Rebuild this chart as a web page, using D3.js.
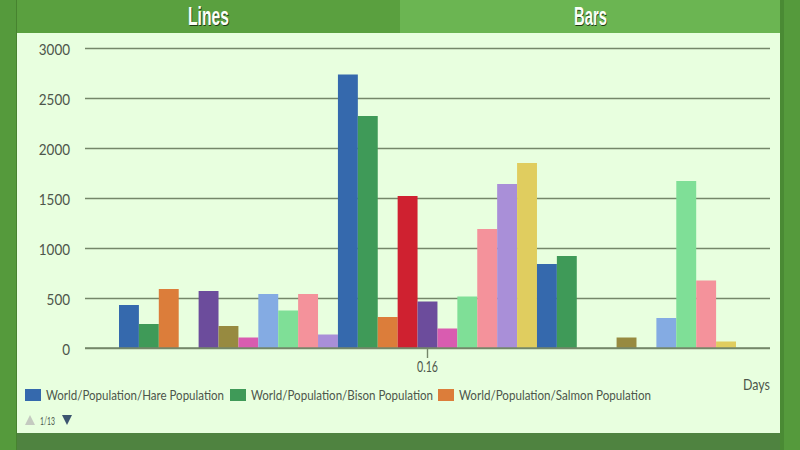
<!DOCTYPE html>
<html lang="en">
<head>
	<meta charset="utf-8" />
	<title>World Population - Bars</title>
	<script src="https://d3js.org/d3.v7.min.js"></script>
    <style>
        html, body {
            margin: 0;
            padding: 0;
            background: #559a3c;
            overflow: hidden;
        }
        svg {
            display: block;
        }
        text {
            font-family: Lato, "Open Sans", sans-serif;
            fill: #4d564b;
        }
        .tab {
            font-family: "Liberation Sans", sans-serif;
            font-size: 25px;
            font-weight: bold;
            fill: #fbfff8;
            text-shadow: 1px 1px 0 #1d3a12;
        }
        .axis path { display: none; }
        .grid line { stroke: #75876a; stroke-width: 1.4; }
        .grid text { font-size: 16px; }
        .base line { stroke: #75876a; stroke-width: 1.4; }
    </style>
</head>
<body>
	<script>
    // one x category, 3 visible rounds of the 12 colour cycle
    // null = series has no bar here (no slot), 0 = slot stays empty
    const categories = ["0.16"];
    const tabLabels = ["Lines", "Bars"];
    const yTicks = [0, 500, 1000, 1500, 2000, 2500, 3000];
    const legendNames = [
        "World/Population/Hare Population",
        "World/Population/Bison Population",
        "World/Population/Salmon Population"
    ];
    const seriesValues = [
        430, 240, 590, 0, 570, 220, 105, 540, 375, 540, 135, null,
        2735, 2320, 310, 1520, 465, null, 195, null, 515, 1190, 1640, 1850,
        840, 920, 0, 0, null, 105, 0, 300, 1670, 675, null, 65
    ];
    const palette = [
        "#3569ad", "#3f9a58", "#dc7d3a", "#cf2130", "#6c4c9c", "#978a40",
        "#d95cb0", "#84abe3", "#7fdf97", "#f4929b", "#a98fd8", "#e0cd5f"
    ];

    const width = 800, height = 450;
    const margin = { left: 85, right: 770, top: 48, bottom: 348 };

    let svg = d3.select("body")
        .append("svg")
        .attr("width", width)
        .attr("height", height);

    // page frame
    svg.append("rect").attr("x", 0).attr("y", 0).attr("width", width).attr("height", height).attr("fill", "#559a3c");
    svg.append("rect").attr("x", 16).attr("y", 0).attr("width", 1).attr("height", height).attr("fill", "#47832f");
    svg.append("rect").attr("x", 780).attr("y", 0).attr("width", 4).attr("height", height).attr("fill", "#4a8a34");
    svg.append("rect").attr("x", 17).attr("y", 33).attr("width", 763).attr("height", 400).attr("fill", "#e8ffdf");
    svg.append("rect").attr("x", 17).attr("y", 433).attr("width", 763).attr("height", 17).attr("fill", "#4f8340");

    // tabs
    svg.append("rect").attr("x", 17).attr("y", 0).attr("width", 383).attr("height", 33).attr("fill", "#5aa03f");
    svg.append("rect").attr("x", 400).attr("y", 0).attr("width", 380).attr("height", 33).attr("fill", "#6bb552");
    const tabX = [188, 574];
    const tabW = [41, 33];
    svg.selectAll("text.tab")
        .data(tabLabels)
        .enter()
        .append("text")
        .attr("class", "tab")
        .attr("x", function(d, i) { return tabX[i]; })
        .attr("y", 25)
        .attr("textLength", function(d, i) { return tabW[i]; })
        .attr("lengthAdjust", "spacingAndGlyphs")
        .text(function(d) { return d; });

    // scales
    let y = d3.scaleLinear().domain([0, 3000]).range([margin.bottom, margin.top]);
    let x = d3.scaleBand().domain(categories).range([margin.left, margin.right]).paddingInner(0).paddingOuter(0.05);

    let bars = seriesValues
        .map(function(v, i) { return { value: v, color: palette[i % palette.length] }; })
        .filter(function(d) { return d.value !== null; });

    let inner = d3.scaleBand()
        .domain(d3.range(bars.length))
        .range([119, 736]);

    // gridlines + y labels
    let yAxis = svg.append("g")
        .attr("class", "axis grid")
        .attr("transform", "translate(" + margin.left + ",0)")
        .call(d3.axisLeft(y).tickValues(yTicks).tickSize(-(margin.right - margin.left)).tickPadding(15).tickFormat(d3.format("d")));
    yAxis.selectAll("text")
        .attr("dy", "0.42em")
        .attr("textLength", function(d) { return String(d).length * 7.8; })
        .attr("lengthAdjust", "spacingAndGlyphs");

    // bars
    svg.selectAll("rect.bar")
        .data(bars)
        .enter()
        .append("rect")
        .attr("class", "bar")
        .attr("x", function(d, i) { return inner(i); })
        .attr("width", inner.bandwidth())
        .attr("y", function(d) { return y(d.value); })
        .attr("height", function(d) { return y(0) - y(d.value); })
        .attr("fill", function(d) { return d.color; });

    // x axis
    let xAxis = svg.append("g")
        .attr("class", "axis base")
        .attr("transform", "translate(0," + margin.bottom + ")")
        .call(d3.axisBottom(x).tickSize(10).tickPadding(3));
    xAxis.selectAll("text")
        .style("font-size", "15px")
        .attr("textLength", 21)
        .attr("lengthAdjust", "spacingAndGlyphs");

    svg.append("line")
        .attr("x1", margin.left).attr("x2", margin.right)
        .attr("y1", margin.bottom).attr("y2", margin.bottom)
        .attr("stroke", "#75876a").attr("stroke-width", 1.4);

    svg.append("text")
        .attr("x", 743).attr("y", 390)
        .attr("font-size", 16)
        .attr("textLength", 27)
        .attr("lengthAdjust", "spacingAndGlyphs")
        .text("Days");

    // legend
    const legendX = [25, 230, 438];
    const legendLabelWidth = [178, 182, 192];
    let legend = svg.selectAll("g.legend")
        .data(legendNames)
        .enter()
        .append("g")
        .attr("class", "legend")
        .attr("transform", function(d, i) { return "translate(" + legendX[i] + ",389)"; });
    legend.append("rect")
        .attr("width", 16).attr("height", 12)
        .attr("fill", function(d, i) { return palette[i]; });
    legend.append("text")
        .attr("x", 21).attr("y", 11)
        .attr("font-size", 14)
        .attr("textLength", function(d, i) { return legendLabelWidth[i]; })
        .attr("lengthAdjust", "spacingAndGlyphs")
        .text(function(d) { return d; });

    // legend pager
    svg.append("path").attr("d", "M25,425 L35,425 L30,415 Z").attr("fill", "#c4cac0");
    svg.append("text")
        .attr("x", 40).attr("y", 425)
        .attr("font-size", 11)
        .attr("textLength", 15)
        .attr("lengthAdjust", "spacingAndGlyphs")
        .text("1/13");
    svg.append("path").attr("d", "M62,415 L72,415 L67,425 Z").attr("fill", "#3c5570");
	</script>
</body>
</html>
